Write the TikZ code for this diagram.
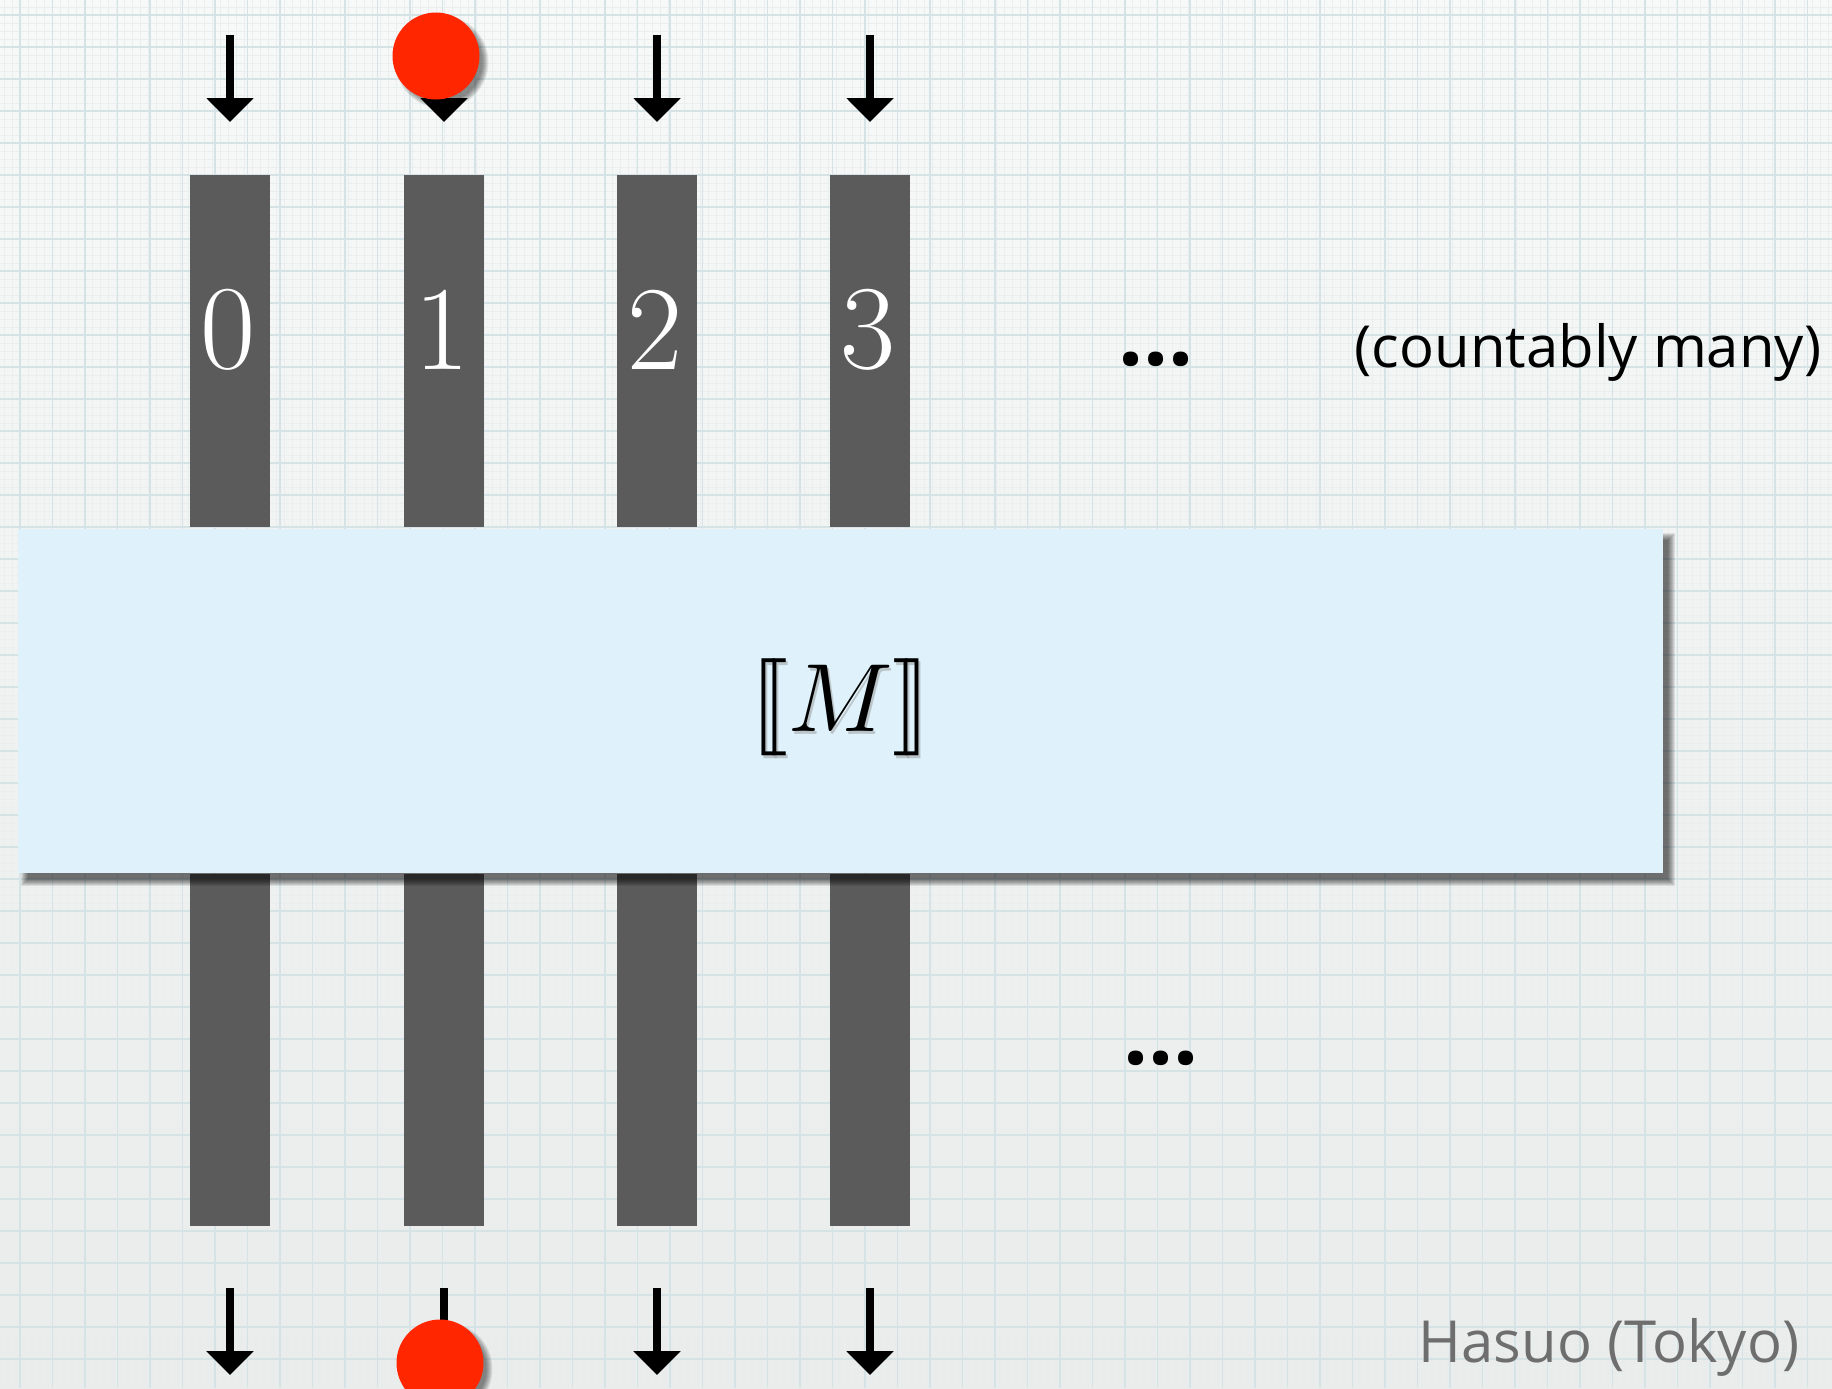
\documentclass[tikz,border=0pt]{standalone}
\usepackage{amsmath}
\usepackage{graphicx}
\usepackage{fontspec}
\newfontfamily\handfont{Open Sans}
\usetikzlibrary{arrows.meta,calc}
\definecolor{bgtop}{HTML}{F7F8F8}
\definecolor{bgbot}{HTML}{EAEBEB}
\definecolor{gridmaj}{HTML}{D6E3E6}
\definecolor{gridmin}{HTML}{E9EEEE}
\definecolor{barcol}{HTML}{5B5B5B}
\definecolor{boxcol}{HTML}{DFF2FB}
\definecolor{ballcol}{HTML}{FF2600}
\definecolor{graytext}{HTML}{6E6E6E}
\newcommand{\semM}{\scalebox{4.85}{$[\![M]\!]$}}
\tikzset{
  bar/.style={fill=barcol, draw=none, minimum width=40pt, minimum height=176pt, inner sep=0pt},
  digit/.style={text=white, font=\fontsize{60}{60}\selectfont, inner sep=0pt},
  mbox/.style={fill=boxcol, draw=none, minimum width=822.5pt, minimum height=172pt, inner sep=0pt},
  ball/.style={circle, fill=ballcol, draw=none, minimum size=43.5pt, inner sep=0pt},
  flow/.style={line width=4pt, -{Triangle[width=23pt,length=12pt]}},
  hand/.style={font=\handfont\fontsize{29}{33}\selectfont, inner sep=0pt},
  dots/.style={font=\handfont\bfseries\fontsize{44}{44}\selectfont, inner sep=0pt},
}
\begin{document}
\begin{tikzpicture}[x=0.5pt,y=-0.5pt]
\useasboundingbox (0,0) rectangle (1832,1388);
% background
\shade[top color=bgtop, bottom color=bgbot] (0,0) rectangle (1832,1388);
\foreach \x in {4,12,...,1832} \draw[gridmin, line width=0.35pt] (\x,0) -- (\x,1388);
\foreach \y in {7,15,...,1388} \draw[gridmin, line width=0.35pt] (0,\y) -- (1832,\y);
\foreach \x in {20,52.5,...,1832} \draw[gridmaj, line width=0.9pt] (\x,0) -- (\x,1388);
\foreach \y in {15,47,...,1388} \draw[gridmaj, line width=0.9pt] (0,\y) -- (1832,\y);

% bars
\foreach \i/\x in {0/230,1/444,2/657,3/870} {
  \node[bar] (t\i) at (\x,351) {};
  \node[bar] (b\i) at (\x,1050) {};
  \coordinate (ts\i) at (\x,35);
  \coordinate (te\i) at (\x,122);
  \coordinate (bs\i) at (\x,1288);
  \coordinate (be\i) at (\x,1375);
}
\foreach \i in {0,1,2,3} \node[digit] (d\i) at ($(t\i.center)+(-2,-21)$) {\i};

% box with shadow
\node[mbox] (m) at (840.5,701) {};
\foreach \d in {-3,...,4}
  \fill[black, opacity=0.09] ($(m.north west)+(7-\d,8-\d)$) rectangle ($(m.south east)+(8+\d,9+\d)$);
\node[mbox] at (m.center) {};
\node[text=black!40, opacity=0.5, inner sep=0pt] at ($(m.center)+(2,9)$) {\semM};
\node[inner sep=0pt] (mt) at ($(m.center)+(0,6)$) {\semM};

% arrows
\foreach \i in {0,1,2,3} {
  \draw[flow] (ts\i) -- (te\i);
  \draw[flow] (bs\i) -- (be\i);
}

% red balls with shadows
\coordinate (c1) at (436,56);
\coordinate (c2) at (440,1363);
\foreach \c in {c1,c2} {
  \foreach \d in {-3,...,3}
    \fill[black, opacity=0.08] ($(\c)+(6,6)$) circle[radius=43.5+\d];
}
\node[ball] (ball1) at (c1) {};
\node[ball] (ball2) at (c2) {};

% texts
\node[dots] (e1) at (1156,359) {...};
\node[dots] (e2) at (1161,1058) {...};
\node[hand] (cm) at (1588,352) {(countably many)};
\node[hand, text=graytext] (hs) at (1609,1347) {Hasuo (Tokyo)};
\end{tikzpicture}
\end{document}
